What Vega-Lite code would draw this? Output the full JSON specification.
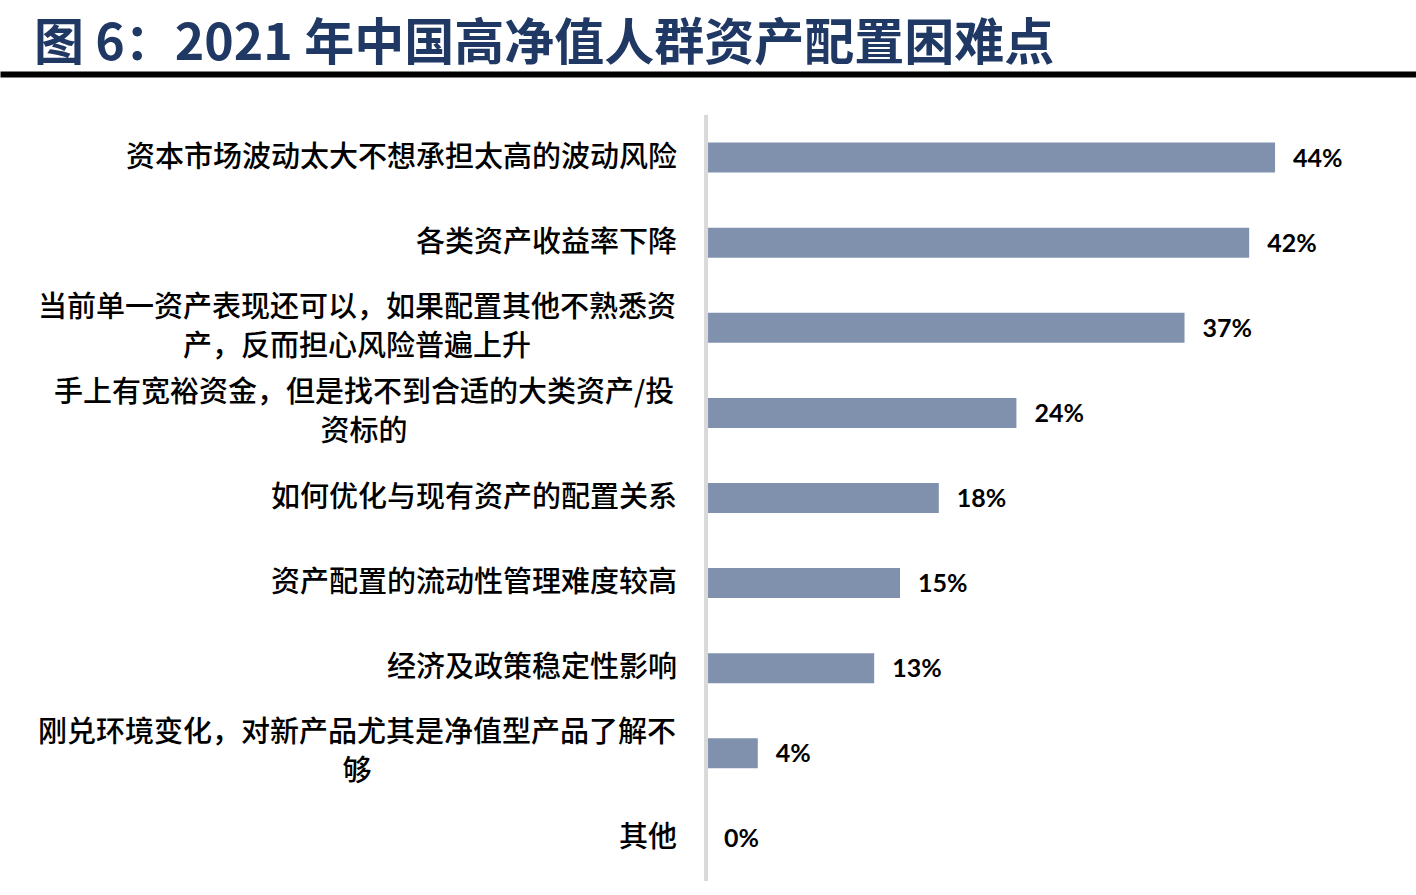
{
  "$schema": "https://vega.github.io/schema/vega-lite/v6.json",
  "width": 1416,
  "height": 766,
  "autosize": {"type": "none"},
  "padding": {"left": 0, "right": 0, "top": 115, "bottom": 14},
  "background": "white",
  "config": {"view": {"stroke": null}},
  "title": {
    "text": "图 6：2021 年中国高净值人群资产配置困难点",
    "anchor": "start",
    "dx": 34,
    "offset": 4,
    "font": "Noto Sans CJK SC",
    "fontSize": 50,
    "fontWeight": "bold",
    "color": "#1f3864"
  },
  "data": {
    "values": [
      {"cat": "资本市场波动太大不想承担太高的波动风险", "v": 0.44, "n": 1},
      {"cat": "各类资产收益率下降", "v": 0.42, "n": 1},
      {"cat": "当前单一资产表现还可以，如果配置其他不熟悉资|产，反而担心风险普遍上升", "v": 0.37, "n": 2},
      {"cat": "手上有宽裕资金，但是找不到合适的大类资产/投|资标的", "v": 0.24, "n": 2},
      {"cat": "如何优化与现有资产的配置关系", "v": 0.18, "n": 1},
      {"cat": "资产配置的流动性管理难度较高", "v": 0.15, "n": 1},
      {"cat": "经济及政策稳定性影响", "v": 0.13, "n": 1},
      {"cat": "刚兑环境变化，对新产品尤其是净值型产品了解不|够", "v": 0.04, "n": 2},
      {"cat": "其他", "v": 0.0, "n": 1}
    ]
  },
  "encoding": {
    "y": {
      "field": "cat",
      "type": "nominal",
      "sort": null,
      "axis": null,
      "scale": {"paddingInner": 0.647, "paddingOuter": 0.324}
    }
  },
  "layer": [
    {
      "mark": {"type": "bar", "color": "#8091AE"},
      "encoding": {
        "x": {
          "field": "v",
          "type": "quantitative",
          "scale": {"domain": [-0.546, 0.549], "nice": false, "zero": false},
          "axis": {
            "orient": "top",
            "labels": false,
            "ticks": false,
            "grid": false,
            "title": null,
            "domainColor": "#000000",
            "domainWidth": 6,
            "offset": 41
          }
        }
      }
    },
    {
      "mark": {"type": "text", "align": "left", "baseline": "middle", "dx": 18, "dy": 1, "font": "Lato", "fontSize": 25, "fontWeight": "bold", "color": "#000000"},
      "encoding": {
        "x": {"field": "v", "type": "quantitative"},
        "text": {"field": "v", "type": "quantitative", "format": ".0%"}
      }
    },
    {
      "transform": [{"filter": "datum.n == 1"}],
      "mark": {"type": "text", "align": "right", "baseline": "middle", "dx": -29, "font": "Noto Sans CJK SC", "fontSize": 29, "fontWeight": 500, "color": "#000000"},
      "encoding": {
        "x": {"datum": 0, "type": "quantitative"},
        "text": {"field": "cat"}
      }
    },
    {
      "transform": [{"filter": "datum.n == 2 && indexof(datum.cat, '手上') < 0"}],
      "mark": {"type": "text", "align": "center", "baseline": "middle", "dx": -349, "dy": -20, "lineBreak": "|", "lineHeight": 39, "font": "Noto Sans CJK SC", "fontSize": 29, "fontWeight": 500, "color": "#000000"},
      "encoding": {
        "x": {"datum": 0, "type": "quantitative"},
        "text": {"field": "cat"}
      }
    },
    {
      "transform": [{"filter": "indexof(datum.cat, '手上') >= 0"}],
      "mark": {"type": "text", "align": "center", "baseline": "middle", "dx": -342, "dy": -20, "lineBreak": "|", "lineHeight": 39, "font": "Noto Sans CJK SC", "fontSize": 29, "fontWeight": 500, "color": "#000000"},
      "encoding": {
        "x": {"datum": 0, "type": "quantitative"},
        "text": {"field": "cat"}
      }
    },
    {
      "data": {"values": [{"base": 0}]},
      "mark": {"type": "rule", "color": "#d9d9d9", "strokeWidth": 4},
      "encoding": {
        "x": {"field": "base", "type": "quantitative"},
        "y": null
      }
    }
  ]
}
